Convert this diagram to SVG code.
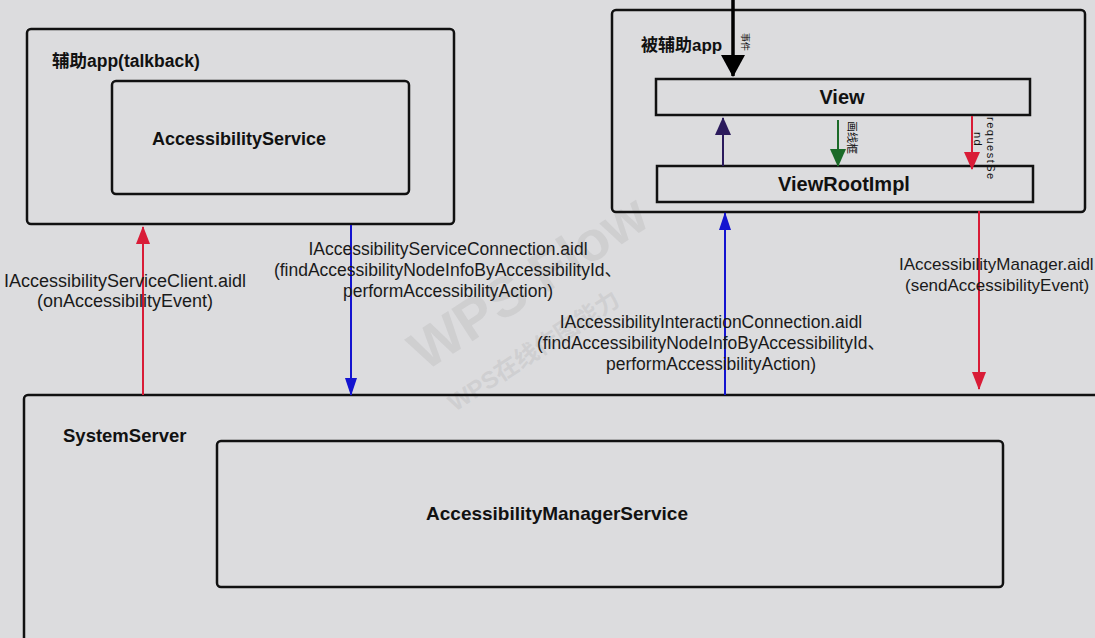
<svg xmlns="http://www.w3.org/2000/svg" width="1095" height="638" viewBox="0 0 1095 638">
<style>
.box{fill:none;stroke:#111;stroke-width:2.5}
.t{font-family:"Liberation Sans","Noto Sans CJK SC",sans-serif;fill:#111}
.b{font-weight:bold}
.lbl{font-family:"Liberation Sans","Noto Sans CJK SC",sans-serif;font-size:17.5px;fill:#1a1a1a;text-anchor:middle}
.lbl-l{font-size:18px}
.lbl-r{font-size:17px;text-anchor:start}
.wm{font-family:"Liberation Sans","Noto Sans CJK SC",sans-serif;fill:#9a9a9a;fill-opacity:0.2;font-weight:bold}
</style>
<defs>
<marker id="aRed" markerWidth="18" markerHeight="14" refX="17" refY="7" orient="auto" markerUnits="userSpaceOnUse" viewBox="0 0 18 14"><path d="M0,0 L18,7 L0,14 Z" fill="#d91c37"/></marker>
<marker id="aBlue" markerWidth="18" markerHeight="12" refX="17" refY="6" orient="auto" markerUnits="userSpaceOnUse" viewBox="0 0 18 12"><path d="M0,0 L18,6 L0,12 Z" fill="#1414d0"/></marker>
<marker id="aNavy" markerWidth="18" markerHeight="16" refX="17" refY="8" orient="auto" markerUnits="userSpaceOnUse" viewBox="0 0 18 16"><path d="M0,0 L18,8 L0,16 Z" fill="#2b1a5c"/></marker>
<marker id="aGreen" markerWidth="18" markerHeight="16" refX="17" refY="8" orient="auto" markerUnits="userSpaceOnUse" viewBox="0 0 18 16"><path d="M0,0 L18,8 L0,16 Z" fill="#1b6a28"/></marker>
<marker id="aRed2" markerWidth="18" markerHeight="16" refX="17" refY="8" orient="auto" markerUnits="userSpaceOnUse" viewBox="0 0 18 16"><path d="M0,0 L18,8 L0,16 Z" fill="#d91c37"/></marker>
<marker id="aBlack" markerWidth="22" markerHeight="24" refX="21" refY="12" orient="auto" markerUnits="userSpaceOnUse" viewBox="0 0 22 24"><path d="M0,0 L22,12 L0,24 Z" fill="#000"/></marker>
</defs>
<rect width="1095" height="638" fill="#dcdcde"/>

<g id="watermark">
<text class="wm" x="0" y="0" font-size="56" transform="translate(425,372) rotate(-33)">WPS Flow</text>
<text class="wm" x="0" y="0" font-size="24" font-weight="normal" transform="translate(455,412) rotate(-33)">WPS在线作图能力</text>
</g>

<g id="talkback">
<rect class="box" x="27" y="29" width="427" height="195" rx="4"/>
<text class="t b" x="52" y="67" font-size="17.5">辅助app(talkback)</text>
</g>
<g id="accessibilityService">
<rect class="box" x="112" y="81" width="297" height="113" rx="4"/>
<text class="t b" x="239" y="145" font-size="18" text-anchor="middle">AccessibilityService</text>
</g>

<g id="targetApp">
<rect class="box" x="612" y="10" width="473" height="202" rx="4"/>
<text class="t b" x="641" y="51" font-size="17">被辅助app</text>
</g>
<g id="view">
<rect class="box" x="656" y="79" width="374" height="36"/>
<text class="t b" x="842" y="104" font-size="20" text-anchor="middle">View</text>
</g>
<g id="viewRootImpl">
<rect class="box" x="657" y="166" width="376" height="36"/>
<text class="t b" x="844" y="191" font-size="20" text-anchor="middle">ViewRootImpl</text>
</g>

<g id="systemServer">
<rect class="box" x="24" y="395" width="1090" height="260" rx="4"/>
<text class="t b" x="63" y="442" font-size="18.5">SystemServer</text>
</g>
<g id="ams">
<rect class="box" x="217" y="441" width="786" height="146" rx="4"/>
<text class="t b" x="557" y="520" font-size="19" text-anchor="middle">AccessibilityManagerService</text>
</g>

<g id="connectors">
<line x1="733" y1="0" x2="733" y2="76" stroke="#000" stroke-width="3.5" marker-end="url(#aBlack)"/>
<line x1="723" y1="166" x2="723" y2="118" stroke="#2b1a5c" stroke-width="2" marker-end="url(#aNavy)"/>
<line x1="838" y1="120" x2="838" y2="166" stroke="#1b6a28" stroke-width="2" marker-end="url(#aGreen)"/>
<line x1="972" y1="116" x2="972" y2="169" stroke="#d91c37" stroke-width="2" marker-end="url(#aRed2)"/>
<line x1="143" y1="395" x2="143" y2="227" stroke="#d91c37" stroke-width="2" marker-end="url(#aRed)"/>
<line x1="351" y1="225" x2="351" y2="395" stroke="#1414d0" stroke-width="2" marker-end="url(#aBlue)"/>
<line x1="725" y1="395" x2="725" y2="213" stroke="#1414d0" stroke-width="2" marker-end="url(#aBlue)"/>
<line x1="979" y1="211" x2="979" y2="389" stroke="#d91c37" stroke-width="2" marker-end="url(#aRed)"/>
</g>

<g id="labels">
<text class="t" x="0" y="0" font-size="9" fill="#555" transform="translate(742,33) rotate(90)">事件</text>
<text class="t" x="0" y="0" font-size="11" fill="#c0505a" transform="translate(848,121) rotate(90)">画线框</text>
<text class="t" x="0" y="0" font-size="11" fill="#444" letter-spacing="1.5" transform="translate(987,117) rotate(90)">requestSe</text>
<text class="t" x="0" y="0" font-size="11" fill="#444" letter-spacing="1.5" transform="translate(974,132) rotate(90)">nd</text>

<text class="lbl lbl-l" x="125" y="287">IAccessibilityServiceClient.aidl</text>
<text class="lbl lbl-l" x="125" y="307">(onAccessibilityEvent)</text>

<text class="lbl" x="448" y="255">IAccessibilityServiceConnection.aidl</text>
<text class="lbl" x="448" y="276">(findAccessibilityNodeInfoByAccessibilityId、</text>
<text class="lbl" x="448" y="297">performAccessibilityAction)</text>

<text class="lbl" x="711" y="328">IAccessibilityInteractionConnection.aidl</text>
<text class="lbl" x="711" y="349">(findAccessibilityNodeInfoByAccessibilityId、</text>
<text class="lbl" x="711" y="370">performAccessibilityAction)</text>

<text class="lbl lbl-r" x="899" y="270">IAccessibilityManager.aidl</text>
<text class="lbl lbl-r" x="905" y="291">(sendAccessibilityEvent)</text>
</g>
</svg>
